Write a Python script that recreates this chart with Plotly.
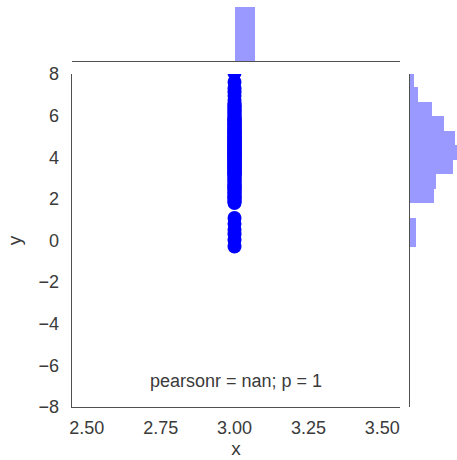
import plotly.graph_objects as go

# ---- data ----
y_values = [
    -0.29, 0.02, 0.30,
    0.52, 0.80, 1.08,
    1.80, 1.86, 1.90, 1.97, 2.03, 2.08, 2.14, 2.21, 2.27, 2.33, 2.40, 2.46,
    2.50, 2.56, 2.61, 2.67, 2.72, 2.78, 2.84, 2.89, 2.95, 3.00, 3.06, 3.12, 3.17,
    3.19, 3.22, 3.26, 3.29, 3.32, 3.36, 3.39, 3.42, 3.46, 3.49, 3.52, 3.56, 3.59, 3.62,
    3.66, 3.69, 3.72, 3.76, 3.79, 3.83, 3.87,
    3.89, 3.92, 3.95, 3.98, 4.01, 4.04, 4.07, 4.10, 4.12, 4.15, 4.18, 4.21, 4.24, 4.27,
    4.30, 4.33, 4.36, 4.39, 4.42, 4.45, 4.48, 4.51, 4.54, 4.57,
    4.59, 4.62, 4.65, 4.68, 4.72, 4.75, 4.78, 4.81, 4.84, 4.87, 4.91, 4.94, 4.97, 5.00,
    5.03, 5.07, 5.10, 5.13, 5.16, 5.20, 5.23, 5.26,
    5.29, 5.33, 5.37, 5.41, 5.45, 5.49, 5.53, 5.57, 5.61, 5.65, 5.69, 5.73, 5.77, 5.81,
    5.85, 5.89, 5.94,
    5.99, 6.05, 6.11, 6.17, 6.23, 6.29, 6.35, 6.41, 6.47, 6.54, 6.61,
    6.75, 6.95, 7.12, 7.30,
    7.62, 8.05,
]
x_values = [3.0] * len(y_values)
annotation_text = "pearsonr = nan; p = 1"
x_tickvals = [2.5, 2.75, 3.0, 3.25, 3.5]
x_ticktext = ["2.50", "2.75", "3.00", "3.25", "3.50"]
y_tickvals = [-8, -6, -4, -2, 0, 2, 4, 6, 8]
y_ticktext = ["\u22128", "\u22126", "\u22124", "\u22122", "0", "2", "4", "6", "8"]

W, H = 457, 460
FONT = "Liberation Sans, Arial, sans-serif"
TXT = "#3a3a3a"
SPINE = "#505050"
HIST = "rgba(0,0,255,0.4)"


def px_x(p):
    return p / W


def px_y(p):
    return 1 - p / H


fig = go.Figure()

fig.add_trace(go.Scatter(
    x=x_values, y=y_values, mode="markers",
    marker=dict(color="#0000ff", size=14, line=dict(width=0)),
    xaxis="x", yaxis="y", showlegend=False, cliponaxis=True,
))

fig.add_trace(go.Histogram(
    x=x_values, xbins=dict(start=3.0, end=3.068, size=0.068),
    marker=dict(color=HIST, line=dict(width=0)),
    xaxis="x2", yaxis="y2", showlegend=False,
))

fig.add_trace(go.Histogram(
    y=y_values, ybins=dict(start=-0.3, end=8.064, size=0.697),
    marker=dict(color=HIST, line=dict(width=0)),
    xaxis="x3", yaxis="y3", showlegend=False,
))

tickfont = dict(family=FONT, size=18, color=TXT)
titlefont = dict(family=FONT, size=19, color=TXT)
common = dict(showgrid=False, zeroline=False, ticks="", automargin=False)

fig.update_layout(
    template="none",
    width=W, height=H, autosize=False,
    margin=dict(l=0, r=0, t=0, b=0, pad=0),
    paper_bgcolor="white", plot_bgcolor="white",
    bargap=0,
    font=dict(family=FONT, color=TXT),
    xaxis=dict(
        domain=[px_x(72), px_x(400)], range=[2.45, 3.56], anchor="y",
        tickvals=x_tickvals, ticktext=x_ticktext, tickfont=tickfont,
        showline=True, linecolor=SPINE, linewidth=1.4,
        ticklabelstandoff=4,
        title=dict(text="x", font=titlefont, standoff=0),
        **common,
    ),
    yaxis=dict(
        domain=[px_y(407), px_y(74)], range=[-8, 8], anchor="x",
        tickvals=y_tickvals, ticktext=y_ticktext, tickfont=tickfont,
        showline=True, linecolor=SPINE, linewidth=1.4,
        ticklabelstandoff=8,
        title=dict(text="y", font=titlefont, standoff=12),
        **common,
    ),
    xaxis2=dict(
        domain=[px_x(72), px_x(400)], range=[2.45, 3.56], anchor="y2",
        showticklabels=False, showline=True, linecolor=SPINE, linewidth=1.4,
        **common,
    ),
    yaxis2=dict(
        domain=[px_y(61), px_y(7)], range=[0, len(y_values)], anchor="x2",
        visible=False, **common,
    ),
    xaxis3=dict(
        domain=[px_x(410), 1.0], range=[0, 23.2], anchor="y3",
        visible=False, **common,
    ),
    yaxis3=dict(
        domain=[px_y(407), px_y(74)], range=[-8, 8], anchor="x3",
        showticklabels=False, showline=True, linecolor=SPINE, linewidth=1.4,
        **common,
    ),
    annotations=[dict(
        text=annotation_text, x=0.5, y=px_y(381), xref="x domain", yref="paper",
        xanchor="center", yanchor="middle", showarrow=False,
        font=dict(family=FONT, size=18, color=TXT),
    )],
)

fig.write_html(
    "out.html",
    config=dict(displayModeBar=False, staticPlot=True),
    post_script="document.body.style.margin='0';document.body.style.overflow='hidden';",
)
